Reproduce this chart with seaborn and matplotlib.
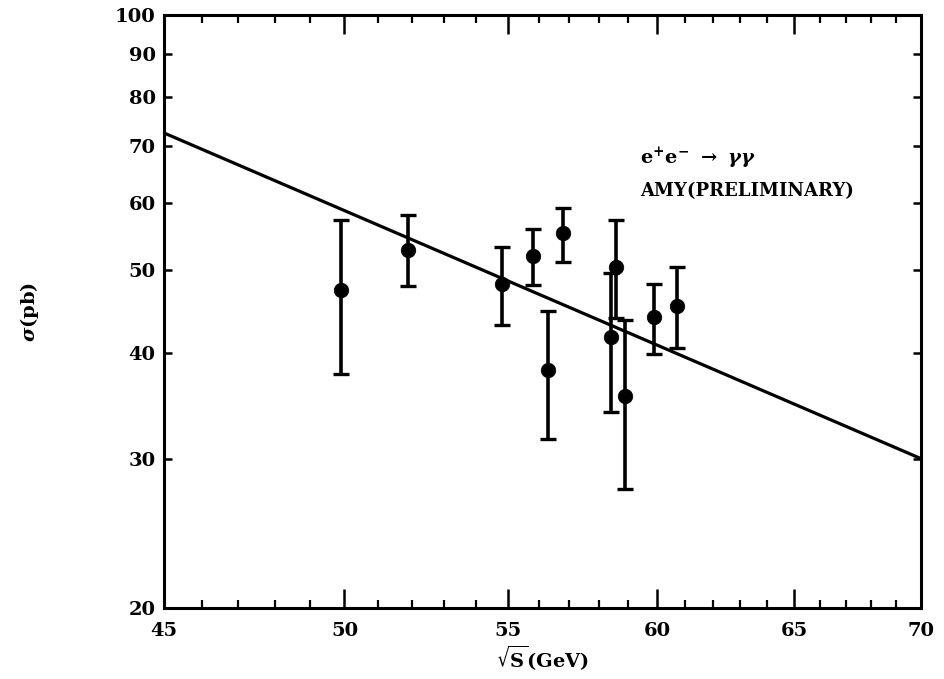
import numpy as np
import pandas as pd
import matplotlib
matplotlib.use("Agg")
import matplotlib.pyplot as plt
from matplotlib.ticker import FixedLocator, FixedFormatter, NullFormatter
import seaborn as sns

# ---- data ----
energy = [49.9, 51.9, 54.8, 55.8, 56.8, 56.3, 58.4, 58.6, 58.9, 59.9, 60.7]
sigma = [47.4, 52.9, 48.2, 52.0, 55.3, 38.2, 41.7, 50.5, 35.6, 44.0, 45.4]
err_hi = [57.3, 58.1, 53.3, 56.0, 59.3, 44.8, 49.6, 57.4, 43.7, 48.2, 50.4]
err_lo = [37.7, 47.9, 43.1, 48.0, 51.2, 31.6, 34.0, 43.9, 27.6, 39.8, 40.5]

qed_energy = [45.0, 70.0]
qed_sigma = [72.6, 30.0]

x_major = [45, 50, 55, 60, 65, 70]
x_minor = [46, 47, 48, 49, 51, 52, 53, 54, 56, 57, 58, 59, 61, 62, 63, 64, 66, 67, 68, 69]
y_ticks = [20, 30, 40, 50, 60, 70, 80, 90, 100]

sns.set_style("ticks")
plt.rcParams["font.family"] = ["DejaVu Serif"]
plt.rcParams["font.weight"] = "bold"
plt.rcParams["mathtext.fontset"] = "dejavuserif"
plt.rcParams["text.color"] = "black"
plt.rcParams["axes.labelcolor"] = "black"
plt.rcParams["xtick.color"] = "black"
plt.rcParams["ytick.color"] = "black"

fig = plt.figure(figsize=(9.44, 6.79), dpi=100)
ax = fig.add_axes([0.1737, 0.1045, 0.8019, 0.8735])

df = pd.DataFrame({"E": energy, "sigma": sigma})
line_df = pd.DataFrame({"E": qed_energy, "sigma": qed_sigma})

yerr = np.array([np.array(sigma) - np.array(err_lo), np.array(err_hi) - np.array(sigma)])
ax.errorbar(energy, sigma, yerr=yerr, fmt="none", ecolor="black",
            elinewidth=2.6, capsize=5.5, capthick=2.4, zorder=3)
sns.scatterplot(data=df, x="E", y="sigma", ax=ax, color="black", s=110,
                edgecolor="black", linewidth=0.5, zorder=4, legend=False)
sns.lineplot(data=line_df, x="E", y="sigma", ax=ax, color="black", lw=2.3,
             zorder=2, legend=False)

ax.set_xscale("log")
ax.set_yscale("log")
ax.set_xlim(45, 70)
ax.set_ylim(20, 100)

ax.xaxis.set_major_locator(FixedLocator(x_major))
ax.xaxis.set_major_formatter(FixedFormatter([str(v) for v in x_major]))
ax.xaxis.set_minor_locator(FixedLocator(x_minor))
ax.xaxis.set_minor_formatter(NullFormatter())
ax.yaxis.set_major_locator(FixedLocator(y_ticks))
ax.yaxis.set_major_formatter(FixedFormatter([str(v) for v in y_ticks]))
ax.yaxis.set_minor_locator(FixedLocator([]))
ax.yaxis.set_minor_formatter(NullFormatter())

ax.tick_params(axis="x", which="major", direction="in", length=14, width=1.8,
               top=True, labelsize=14, pad=10, colors="black")
ax.tick_params(axis="x", which="minor", direction="in", length=6, width=1.6,
               top=True, colors="black")
ax.tick_params(axis="y", which="major", direction="in", length=6, width=1.8,
               right=True, labelsize=14, pad=6, colors="black")
for lab in ax.get_xticklabels() + ax.get_yticklabels():
    lab.set_fontweight("bold")

for s in ax.spines.values():
    s.set_linewidth(2.2)
    s.set_color("black")

ax.set_xlabel(r"$\mathbf{\sqrt{S}}$(GeV)", fontsize=14, fontweight="bold",
              labelpad=3, color="black")
ax.set_ylabel(r"$\sigma$(pb)", fontsize=14, fontweight="bold", color="black")
ax.yaxis.set_label_coords(-0.162, 0.5)

ax.text(0.629, 0.759, r"$\mathbf{e^{+}e^{-}}\ \rightarrow\ \gamma\gamma$",
        transform=ax.transAxes, fontsize=14, ha="left", va="center", color="black")
ax.text(0.629, 0.703, "AMY(PRELIMINARY)", transform=ax.transAxes,
        fontsize=13, fontweight="bold", ha="left", va="center", color="black")

fig.savefig("out.png", dpi=100)
